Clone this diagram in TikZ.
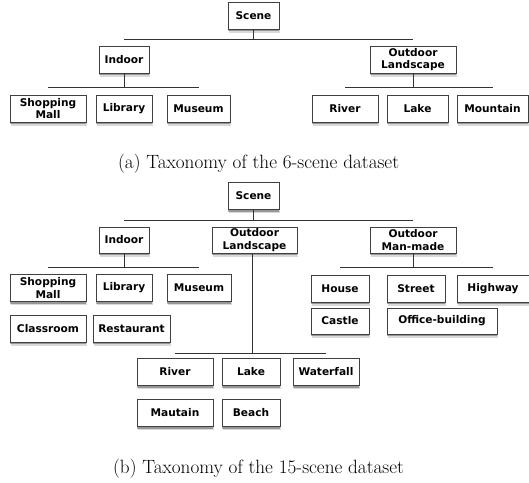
\documentclass[tikz,border=0pt]{standalone}
\usepackage{fontspec}
\newfontfamily\boxfont{DejaVu Sans}
\usetikzlibrary{shadows,positioning,calc}

\begin{document}
\begin{tikzpicture}[
  x=1pt, y=-1pt,
  cat/.style={rectangle, draw=black!75, line width=0.6pt, fill=white,
              drop shadow={shadow xshift=0.5pt, shadow yshift=-3.5pt, fill=black, opacity=0.15},
              drop shadow={shadow xshift=0pt, shadow yshift=-2pt, fill=black, opacity=0.3},
              minimum height=27pt, inner sep=1pt, align=center,
              font=\boxfont\bfseries\fontsize{10.6}{12.5}\selectfont},
  bar/.style={draw=black!80, line width=0.9pt},
  caption/.style={anchor=base west, inner sep=0pt, font=\fontsize{19.2}{22}\selectfont},
]
  \useasboundingbox (0,0) rectangle (529,482);

  %% (a) 6-scene taxonomy
  \node[cat, minimum width=51pt] (sceneA) at (253.5,15.5) {Scene};
  \node[cat, minimum width=50pt] (indoorA) at (124,59.5) {Indoor};
  \node[cat, minimum width=86pt] (landA) at (413,59.5) {Outdoor\\Landscape};
  \node[cat, minimum width=76pt] (mallA) at (48,108.5) {Shopping\\Mall};
  \node[cat, minimum width=56pt] (libA) at (124,108.5) {Library};
  \node[cat, minimum width=63pt] (musA) at (198.5,108.5) {Museum};
  \node[cat, minimum width=66pt] (riverA) at (345,108.5) {River};
  \node[cat, minimum width=61pt] (lakeA) at (417.5,108.5) {Lake};
  \node[cat, minimum width=71pt] (mtnA) at (492.5,108.5) {Mountain};

  \coordinate (topA) at (253.5,39);
  \coordinate (inA) at (124,87);
  \coordinate (outA) at (413,87);
  \draw[bar] (sceneA.south) -- (topA);
  \draw[bar] (indoorA.north |- topA) -- (landA.north |- topA);
  \draw[bar] (indoorA.south) -- (inA);
  \draw[bar] (mallA.north |- inA) -- (musA.north |- inA);
  \draw[bar] (landA.south) -- (outA);
  \draw[bar] (riverA.north |- outA) -- (mtnA.north |- outA);

  \node[caption] (capA) at (118,168) {(a) Taxonomy of the 6-scene dataset};

  %% (b) 15-scene taxonomy
  \node[cat, minimum width=51pt] (sceneB) at (253.5,196) {Scene};
  \node[cat, minimum width=50pt, minimum height=26pt] (indoorB) at (124,240) {Indoor};
  \node[cat, minimum width=85pt, minimum height=26pt] (landB) at (254.5,240) {Outdoor\\Landscape};
  \node[cat, minimum width=86pt, minimum height=26pt] (manB) at (413,240) {Outdoor\\Man-made};

  %% indoor leaves
  \node[cat, minimum width=76pt] (mallB) at (48,288) {Shopping\\Mall};
  \node[cat, minimum width=56pt] (libB) at (124,288) {Library};
  \node[cat, minimum width=64pt] (musB) at (199,288) {Museum};
  \node[cat, minimum width=76pt] (classB) at (48,328.5) {Classroom};
  \node[cat, minimum width=77pt] (restB) at (131.5,328.5) {Restaurant};

  %% man-made leaves
  \node[cat, minimum width=58pt] (houseB) at (340,288.5) {House};
  \node[cat, minimum width=58pt] (streetB) at (416,288.5) {Street};
  \node[cat, minimum width=72pt] (hwyB) at (493,288.5) {Highway};
  \node[cat, minimum width=58pt, minimum height=26pt] (castleB) at (340,321) {Castle};
  \node[cat, minimum width=110pt, minimum height=26pt] (officeB) at (442,321) {Office-building};

  %% landscape leaves
  \node[cat, minimum width=76pt] (riverB) at (175,372) {River};
  \node[cat, minimum width=58pt] (lakeB) at (251,372) {Lake};
  \node[cat, minimum width=66pt] (fallB) at (326,372) {Waterfall};
  \node[cat, minimum width=76pt] (mautB) at (175,413) {Mautain};
  \node[cat, minimum width=58pt] (beachB) at (251,413) {Beach};

  \coordinate (topB) at (253.5,220);
  \coordinate (inB) at (124,267);
  \coordinate (manbarB) at (413,267);
  \coordinate (landbarB) at (252,353);
  \draw[bar] (sceneB.south) -- (topB);
  \draw[bar] (indoorB.north |- topB) -- (manB.north |- topB);
  \draw[bar] (indoorB.south) -- (inB);
  \draw[bar] (mallB.north |- inB) -- (musB.north |- inB);
  \draw[bar] (manB.south) -- (manbarB);
  \draw[bar] (houseB.north |- manbarB) -- (hwyB.north |- manbarB);
  \draw[bar] (landB.south -| landbarB) -- (landbarB);
  \draw[bar] (riverB.north |- landbarB) -- (fallB.north |- landbarB);

  \node[caption] (capB) at (113,473) {(b) Taxonomy of the 15-scene dataset};
\end{tikzpicture}
\end{document}
